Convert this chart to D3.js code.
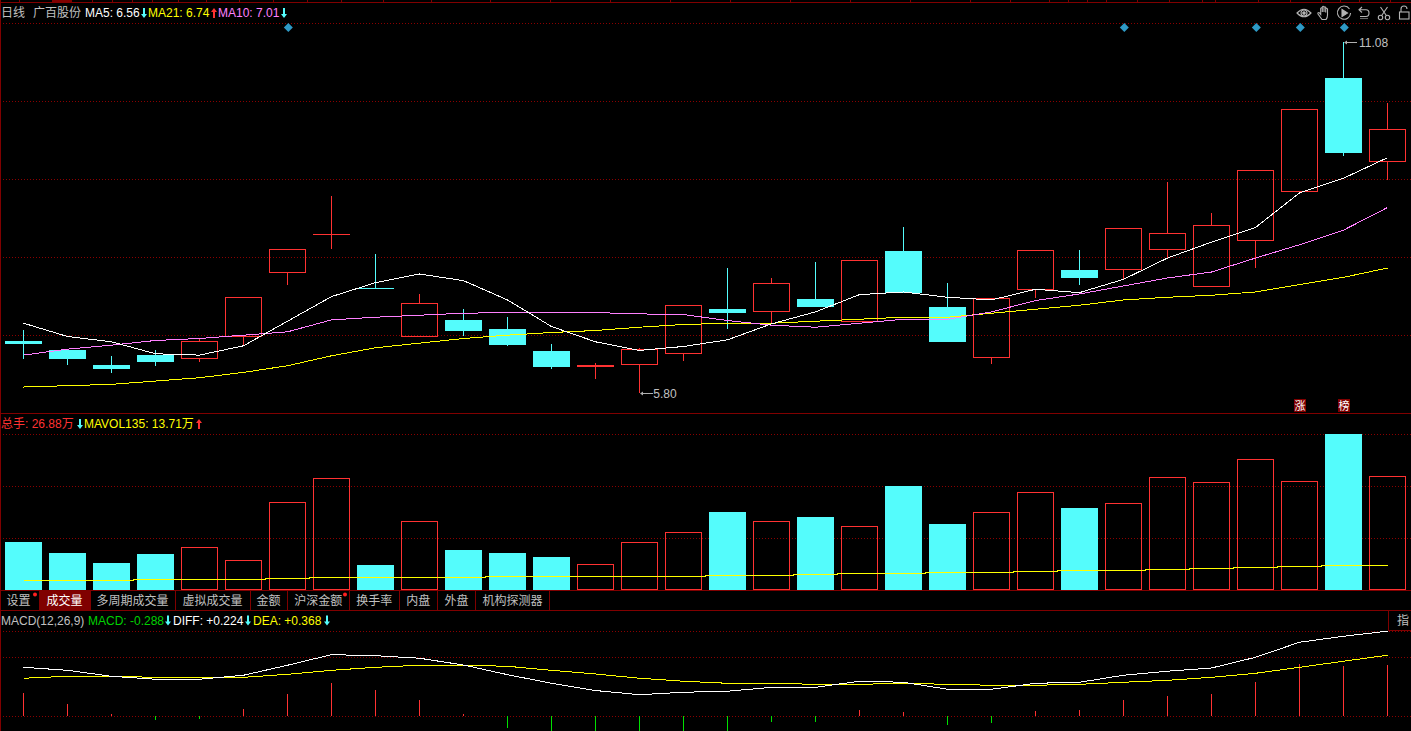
<!DOCTYPE html>
<html>
<head>
<meta charset="utf-8">
<script src="https://cdn.jsdelivr.net/npm/d3@7/dist/d3.min.js"></script>
<style>
html,body{margin:0;padding:0;background:#000;overflow:hidden}
svg{display:block}
text{font-family:"Liberation Sans",Arial,"Noto Sans CJK SC",sans-serif;font-size:12px;dominant-baseline:central}
</style>
</head>
<body>
<div id="chart"></div>
<script>
// ---------- data ----------
const open  = [6.58,6.45,6.22,6.37,6.31,6.64,7.60,8.18,7.38,6.64,6.90,6.76,6.43,6.19,6.22,6.39,7.06,7.02,7.21,6.87,7.94,7.09,6.33,7.35,7.65,7.65,7.95,7.39,8.09,8.82,10.54,9.27];
const close = [6.54,6.31,6.16,6.27,6.58,7.24,7.97,8.19,7.36,7.15,6.73,6.52,6.19,6.22,6.46,7.12,7.00,7.45,7.09,7.80,7.30,6.57,7.23,7.95,7.53,8.28,8.21,8.33,9.15,10.07,9.41,9.77];
const high  = [6.75,6.45,6.36,6.45,6.63,7.24,7.97,8.76,7.89,7.29,7.06,6.94,6.54,6.25,6.48,7.12,7.68,7.53,7.77,7.80,8.30,7.45,7.23,7.95,7.95,8.28,8.97,8.51,9.15,10.07,11.08,10.16];
const low   = [6.31,6.22,6.10,6.21,6.27,6.52,7.42,7.97,7.36,6.64,6.66,6.51,6.16,6.01,5.80,6.28,6.76,6.84,7.09,6.87,7.30,6.57,6.24,7.23,7.42,7.51,7.83,7.39,7.68,8.82,9.36,9.00];
const ma5   = [6.85,6.65,6.57,6.39,6.37,6.51,6.88,7.25,7.46,7.59,7.49,7.20,6.80,6.57,6.44,6.50,6.60,6.84,7.02,7.28,7.32,7.24,7.20,7.36,7.31,7.51,7.83,8.07,8.29,8.81,9.03,9.34];
const ma10  = [6.37,6.46,6.52,6.59,6.62,6.67,6.72,6.90,6.94,6.97,7.00,7.01,7.01,7.01,6.99,6.98,6.89,6.82,6.79,6.85,6.91,6.91,7.02,7.19,7.29,7.41,7.53,7.62,7.83,8.03,8.25,8.59];
const ma21  = [5.89,5.91,5.93,5.98,6.03,6.11,6.21,6.36,6.48,6.55,6.62,6.67,6.71,6.74,6.79,6.83,6.85,6.85,6.88,6.91,6.94,6.94,7.00,7.06,7.12,7.20,7.24,7.27,7.32,7.43,7.54,7.68];
const volume = [49.6,38.3,27.9,37.2,44.5,31.0,91.0,115.8,25.9,71.3,41.4,38.3,34.1,26.88,49.6,60.0,80.7,71.3,75.5,66.2,107.5,68.2,80.7,101.3,84.8,90.0,116.8,111.7,135.5,112.7,161.3,117.9];
const mavol135 = [10.0,10.0,10.0,11.06,11.06,11.06,12.1,13.13,13.13,13.13,13.13,13.71,13.71,13.71,14.2,14.2,15.2,15.2,16.2,17.3,17.3,18.3,18.3,19.3,20.4,20.4,21.4,22.4,23.5,24.5,25.5,25.5];
const diff = [0.426,0.400,0.348,0.322,0.322,0.357,0.444,0.536,0.527,0.505,0.446,0.362,0.287,0.224,0.188,0.209,0.218,0.252,0.252,0.305,0.296,0.235,0.235,0.287,0.296,0.357,0.392,0.420,0.513,0.644,0.696,0.740];
const dea  = [0.331,0.348,0.348,0.339,0.339,0.339,0.365,0.400,0.426,0.444,0.444,0.435,0.400,0.368,0.331,0.305,0.287,0.287,0.278,0.278,0.287,0.278,0.270,0.270,0.278,0.296,0.313,0.339,0.374,0.426,0.479,0.531];
const macd = [0.203,0.107,0.020,-0.032,-0.023,0.064,0.194,0.290,0.229,0.142,0.020,-0.102,-0.166,-0.288,-0.286,-0.192,-0.139,-0.046,-0.046,0.052,0.037,-0.076,-0.055,0.046,0.055,0.142,0.177,0.194,0.298,0.455,0.438,0.446];
const priceGrid = [11.36,10.18,9.01,7.84,6.66];
const volumeGrid = [160.8,107.0,53.3];
const macdGrid = [0.738,0.512,0];
const signalDays = [6,25,28,29,30];
const badgeDays = [29,30];
const badgeLabels = ["涨","榜"];
const tabLabels = ["设置","成交量","多周期成交量","虚拟成交量","金额","沪深金额","换手率","内盘","外盘","机构探测器"];
const priceHigh = 11.08, priceLow = 5.80;

// ---------- layout ----------
const W = 1411, H = 731;
const tabEdges = [2,39,90,175,250,287,349.5,399,437.5,475.5,549.5];
const topTicks = [19,92,112,132,152,178,206,239,273,307,341,383,431,490,550,610,670,730,790,850,910,970,1010,1049,1068,1087,1106,1137,1169,1202,1215,1258,1290,1321,1340,1359,1390];

const C = {bg:"#000",frame:"#800000",grid:"#8a0000",up:"#ff3232",down:"#54fcfc",white:"#ffffff",yellow:"#ffff00",mag:"#ff80ff",text:"#c0c0c0",green:"#00d000",diamond:"#2e9ac6"};

const svg = d3.select("#chart").append("svg").attr("width",W).attr("height",H).attr("viewBox",`0 0 ${W} ${H}`);
svg.append("rect").attr("width",W).attr("height",H).attr("fill",C.bg);

const idx = d3.range(open.length);
const x = d3.scalePoint().domain(idx).range([23.5,1387.5]);
const yP = d3.scaleLinear().domain([priceLow,priceHigh]).range([393,42]);
const yV = d3.scaleLinear().domain([0,161.3]).range([590,434]);
const yM = d3.scaleLinear().domain([0,0.74]).range([716.3,631.2]);
const halfW = 18;
const crisp = "crispEdges";

function dotted(g,vals,scale){
  g.selectAll(null).data(vals).join("line")
    .attr("x1",3).attr("x2",W).attr("y1",d=>Math.floor(scale(d))+.5).attr("y2",d=>Math.floor(scale(d))+.5)
    .attr("stroke",C.grid).attr("stroke-width",1).attr("stroke-dasharray","1 2").attr("shape-rendering",crisp);
}
const gGrid = svg.append("g");
dotted(gGrid,priceGrid,yP); dotted(gGrid,volumeGrid,yV); dotted(gGrid,macdGrid,yM);

// ---------- candles ----------
const gC = svg.append("g").attr("shape-rendering",crisp);
idx.forEach(i=>{
  const isUp = close[i] >= open[i];
  const col = isUp ? C.up : C.down;
  const cx = x(i);
  const top = Math.round(yP(Math.max(open[i],close[i])));
  const bot = Math.round(yP(Math.min(open[i],close[i])));
  const hi = Math.round(yP(high[i])), lo = Math.round(yP(low[i]));
  if(hi<top) gC.append("line").attr("x1",cx).attr("x2",cx).attr("y1",hi).attr("y2",top).attr("stroke",col);
  if(lo>bot) gC.append("line").attr("x1",cx).attr("x2",cx).attr("y1",bot).attr("y2",lo).attr("stroke",col);
  if(isUp && bot-top>2){
    gC.append("rect").attr("x",cx-halfW).attr("y",top+.5).attr("width",halfW*2).attr("height",bot-top-1)
      .attr("fill","none").attr("stroke",col);
  }else{
    gC.append("rect").attr("x",cx-halfW-.5).attr("y",top).attr("width",halfW*2+1).attr("height",Math.max(bot-top,1)).attr("fill",col);
  }
});

// ---------- MA lines ----------
const lineOf = (arr,sc)=>d3.line().x((d,i)=>x(i)).y(d=>sc(d))(arr);
[[ma21,C.yellow],[ma10,C.mag],[ma5,C.white]].forEach(([arr,c])=>{
  svg.append("path").attr("d",lineOf(arr,yP)).attr("fill","none").attr("stroke",c).attr("stroke-width",1).attr("shape-rendering",crisp);
});

// ---------- hi/lo labels ----------
function extreme(i,val,label,off){
  const cx = x(i), y = Math.floor(yP(val))+.5;
  svg.append("line").attr("x1",cx+2).attr("x2",cx+13).attr("y1",y).attr("y2",y).attr("stroke","#b0b0b0").attr("shape-rendering",crisp);
  svg.append("path").attr("d",`M${cx+.5},${y} l3,-2 v4 z`).attr("fill","#b0b0b0");
  svg.append("text").attr("x",cx+off).attr("y",y).attr("fill",C.text).text(label);
}
extreme(d3.maxIndex(high),priceHigh,priceHigh.toFixed(2),15.5);
extreme(d3.minIndex(low),priceLow,priceLow.toFixed(2),13.8);

// ---------- signal markers ----------
svg.append("g").selectAll("path").data(signalDays).join("path")
  .attr("d",d=>`M${x(d)+.8},23 l4.5,4.5 l-4.5,4.5 l-4.5,-4.5 z`).attr("fill",C.diamond);

// ---------- badges ----------
badgeDays.forEach((d,k)=>{
  svg.append("rect").attr("x",x(d)-5.5).attr("y",399).attr("width",12).attr("height",13).attr("fill","#800000");
  svg.append("text").attr("x",x(d)+.5).attr("y",405.5).attr("text-anchor","middle").attr("fill","#fff").style("font-size","11px").text(badgeLabels[k]);
});

// ---------- volume ----------
const gV = svg.append("g").attr("shape-rendering",crisp);
idx.forEach(i=>{
  const isUp = close[i] >= open[i];
  const cx = x(i), top = Math.round(yV(volume[i]));
  if(isUp){
    gV.append("rect").attr("x",cx-halfW).attr("y",top+.5).attr("width",halfW*2).attr("height",589.5-top-.5).attr("fill","none").attr("stroke",C.up);
  }else{
    gV.append("rect").attr("x",cx-halfW-.5).attr("y",top).attr("width",halfW*2+1).attr("height",590-top).attr("fill",C.down);
  }
});
svg.append("path").attr("d",d3.line().curve(d3.curveStep).x((d,i)=>x(i)).y(d=>yV(d))(mavol135))
  .attr("fill","none").attr("stroke",C.yellow).attr("shape-rendering",crisp);

// ---------- MACD ----------
const gM = svg.append("g").attr("shape-rendering",crisp);
idx.forEach(i=>{
  gM.append("line").attr("x1",x(i)).attr("x2",x(i)).attr("y1",yM(0)).attr("y2",yM(macd[i]))
    .attr("stroke",macd[i]>=0?C.up:"#00e000");
});
svg.append("path").attr("d",lineOf(dea,yM)).attr("fill","none").attr("stroke",C.yellow).attr("shape-rendering",crisp);
svg.append("path").attr("d",lineOf(diff,yM)).attr("fill","none").attr("stroke",C.white).attr("shape-rendering",crisp);

// ---------- frames ----------
const gF = svg.append("g").attr("shape-rendering",crisp).attr("stroke",C.frame);
[[0,2.5,W,2.5],[0.5,0,0.5,H],[0,413.5,W,413.5],[0,590.5,W,590.5],[0,610.5,W,610.5]].forEach(l=>{
  gF.append("line").attr("x1",l[0]).attr("y1",l[1]).attr("x2",l[2]).attr("y2",l[3]);
});
gF.selectAll("line.t").data(topTicks).join("line").attr("class","t").attr("x1",d=>d+.5).attr("x2",d=>d+.5).attr("y1",0).attr("y2",2);
svg.append("rect").attr("x",52).attr("y",0).attr("width",20).attr("height",2).attr("fill",C.frame);

// ---------- tabs ----------
tabLabels.forEach((t,k)=>{
  const a = tabEdges[k], b = tabEdges[k+1], active = k===1;
  if(active) svg.append("rect").attr("x",a).attr("y",591).attr("width",b-a).attr("height",19).attr("fill",C.frame);
  svg.append("line").attr("x1",b).attr("x2",b).attr("y1",591).attr("y2",610).attr("stroke",C.frame).attr("shape-rendering",crisp);
  svg.append("text").attr("x",(a+b)/2-(k===0?2:0)).attr("y",601).attr("text-anchor","middle").attr("fill",active?"#fff":C.text).text(t);
});
[35,345].forEach(px=>svg.append("circle").attr("cx",px).attr("cy",594.5).attr("r",2).attr("fill","#ff2020"));

// right side box
svg.append("path").attr("d","M1388.5,611 V630.5 H1411").attr("fill","none").attr("stroke",C.frame).attr("shape-rendering",crisp);
svg.append("text").attr("x",1397).attr("y",621).attr("fill",C.text).text("指");

// ---------- headers ----------
function arrow(px,py,up,color){
  const d = up ? `M${px},${py-5} l3,4 h-2 v6 h-2 v-6 h-2 z` : `M${px},${py+5} l3,-4 h-2 v-6 h-2 v6 h-2 z`;
  svg.append("path").attr("d",d).attr("fill",color);
}
function label(px,py,s,c){ svg.append("text").attr("x",px).attr("y",py).attr("fill",c).text(s); }
label(1,13,"日线",C.text);
label(33,13,"广百股份",C.text);
label(85,13,"MA5: 6.56",C.white); arrow(144,13,false,C.down);
label(148,13,"MA21: 6.74",C.yellow); arrow(214,13,true,C.up);
label(218,13,"MA10: 7.01",C.mag); arrow(284,13,false,C.down);

label(1,424,"总手: 26.88万",C.up); arrow(80,424,false,C.down);
label(84,424,"MAVOL135: 13.71万",C.yellow); arrow(199,424,true,C.up);

label(1,620.5,"MACD(12,26,9)",C.text);
label(88,620.5,"MACD: -0.288",C.green); arrow(168,620.5,false,C.down);
label(173,620.5,"DIFF: +0.224",C.white); arrow(248,620.5,false,C.down);
label(253,620.5,"DEA: +0.368",C.yellow); arrow(327,620.5,false,C.down);

// ---------- toolbar icons ----------
const ic = svg.append("g").attr("fill","none").attr("stroke","#b4b4b4").attr("stroke-width",1.1);
const eye = ic.append("g").attr("transform","translate(1304,13)");
eye.append("path").attr("d","M-7,0 Q0,-7.5 7,0 Q0,7.5 -7,0 Z");
eye.append("circle").attr("r",3);
eye.append("circle").attr("r",1.2).attr("fill","#b4b4b4");
ic.append("path").attr("transform","translate(1324,13)")
  .attr("d","M-2,6.5 L-6,1 Q-6.5,-.5 -5,-.5 L-3.3,1.5 V-4.5 Q-2.5,-6 -1.7,-4.5 V-1 V-6 Q-.8,-7.5 0,-6 V-1 V-5.5 Q.9,-7 1.7,-5.5 V-.5 V-4 Q2.6,-5.5 3.5,-4 V2 Q3.5,5 2,6.5 Z");
const play = ic.append("g").attr("transform","translate(1344,13)");
play.append("path").attr("d","M5.5,-4 A6.6,6.6 0 1 0 6.6,0");
play.append("path").attr("d","M-2,-3.5 L3.5,0 L-2,3.5 Z").attr("fill","#b4b4b4");
ic.append("path").attr("transform","translate(1364,13)").attr("d","M-2,-6 L-5,-3.2 L-2,-.5 M-5,-3.2 H2 Q5,-3.2 5,0 Q5,3.5 2,3.5 H-4");
ic.append("line").attr("x1",1360).attr("x2",1368).attr("y1",18.5).attr("y2",18.5).attr("stroke","#666");
const sc = ic.append("g").attr("transform","translate(1384,13)");
sc.append("circle").attr("cx",-3.5).attr("cy",4.5).attr("r",2.2);
sc.append("circle").attr("cx",3.5).attr("cy",4.5).attr("r",2.2);
sc.append("path").attr("d","M-2.5,2.8 L3.5,-6 M2.5,2.8 L-3.5,-6");
const lk = ic.append("g").attr("transform","translate(1404,13)");
lk.append("rect").attr("x",-4.5).attr("y",-1).attr("width",9.5).attr("height",7);
lk.append("path").attr("d","M-3,-1 V-4 Q-3,-7 0,-7 Q3,-7 3,-4");
</script>
</body>
</html>
